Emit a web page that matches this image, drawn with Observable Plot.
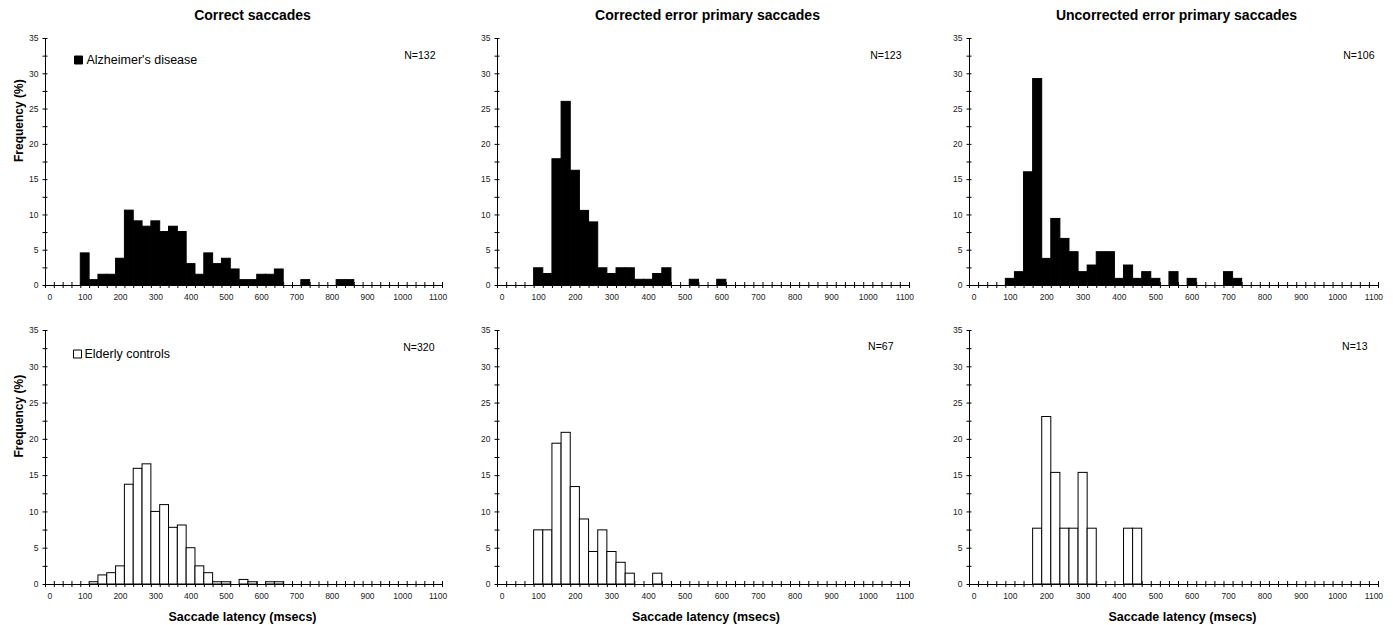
<!DOCTYPE html>
<html>
<head>
<meta charset="utf-8">
<script src="https://cdn.jsdelivr.net/npm/d3@7"></script>
<script src="https://cdn.jsdelivr.net/npm/@observablehq/plot@0.6"></script>
<style>
html, body { margin: 0; padding: 0; background: #fff; }
#chart { position: relative; width: 1393px; height: 625px; overflow: hidden; background: #fff; }
#chart svg { position: absolute; }
</style>
</head>
<body>
<div id="chart"></div>
<script>
// ---- Data ----
const xTickLabels = [0, 100, 200, 300, 400, 500, 600, 700, 800, 900, 1000, 1100];
const yTickLabels = [0, 5, 10, 15, 20, 25, 30, 35];
const columnTitles = ["Correct saccades", "Corrected error primary saccades", "Uncorrected error primary saccades"];
const groupNames = ["Alzheimer's disease", "Elderly controls"];
const sampleSizes = [[132, 123, 106], [320, 67, 13]];
const xTitle = "Saccade latency (msecs)";
const yTitle = "Frequency (%)";

// Alzheimer's disease — correct saccades
const adCorrectBins = [100,125,150,175,200,225,250,275,300,325,350,375,400,425,450,475,500,525,550,575,600,625,650,725,825,850];
const adCorrectPct  = [4.55,0.76,1.52,1.52,3.79,10.61,9.09,8.33,9.09,7.58,8.33,7.58,3.03,1.52,4.55,3.03,3.79,2.27,0.76,0.76,1.52,1.52,2.27,0.76,0.76,0.76];
// Alzheimer's disease — corrected error primary saccades
const adCorrErrBins = [100,125,150,175,200,225,250,275,300,325,350,375,400,425,450,525,600];
const adCorrErrPct  = [2.44,1.63,17.89,26.02,16.26,10.57,8.94,2.44,1.63,2.44,2.44,0.81,0.81,1.63,2.44,0.81,0.81];
// Alzheimer's disease — uncorrected error primary saccades
const adUncErrBins = [100,125,150,175,200,225,250,275,300,325,350,375,400,425,450,475,500,550,600,700,725];
const adUncErrPct  = [0.94,1.89,16.04,29.25,3.77,9.43,6.60,4.72,1.89,2.83,4.72,4.72,0.94,2.83,0.94,1.89,0.94,1.89,0.94,1.89,0.94];
// Elderly controls — correct saccades
const ecCorrectBins = [125,150,175,200,225,250,275,300,325,350,375,400,425,450,475,500,550,575,625,650];
const ecCorrectPct  = [0.31,1.25,1.56,2.50,13.75,15.94,16.56,10.00,10.94,7.81,8.13,5.00,2.50,1.56,0.31,0.31,0.63,0.31,0.31,0.31];
// Elderly controls — corrected error primary saccades
const ecCorrErrBins = [100,125,150,175,200,225,250,275,300,325,350,425];
const ecCorrErrPct  = [7.46,7.46,19.40,20.90,13.43,8.96,4.48,7.46,4.48,2.99,1.49,1.49];
// Elderly controls — uncorrected error primary saccades
const ecUncErrBins = [175,200,225,250,275,300,325,425,450];
const ecUncErrPct  = [7.69,23.08,15.38,7.69,7.69,15.38,7.69,7.69,7.69];

const panelData = [
  [[adCorrectBins, adCorrectPct], [adCorrErrBins, adCorrErrPct], [adUncErrBins, adUncErrPct]],
  [[ecCorrectBins, ecCorrectPct], [ecCorrErrBins, ecCorrErrPct], [ecUncErrBins, ecUncErrPct]]
];

// ---- Layout ----
const binWidth = 25;
const half = binWidth / 2;
const xDomain = [0 - half, 1100 + half];
const binEdges = d3.range(xDomain[0], xDomain[1] + 1, binWidth);
const yMinor = d3.range(0, 35.01, 2.5);

const cols = [
  {x0: 45, x1: 442, titleDx: 8.5, xTitleDx: -1.5},
  {x0: 497, x1: 909, titleDx: 4, xTitleDx: 2.5},
  {x0: 969, x1: 1378, titleDx: 2.5, xTitleDx: 8.5}
];
const rows = [
  {y0: 38, y1: 285, mt: 38, mb: 20},
  {y0: 330, y1: 584, mt: 20, mb: 41}
];
const nOffsets = [[[-7, 17], [-8, 17], [-4, 17]], [[-8, 17.5], [-16, 16], [-11, 16]]];
const ML = 45, MR = 15;
const FONT = "'Liberation Sans', Arial, Helvetica, sans-serif";

const chart = document.getElementById("chart");

for (let r = 0; r < 2; r++) {
  for (let c = 0; c < 3; c++) {
    const col = cols[c], row = rows[r];
    const [bins, pct] = panelData[r][c];
    const data = bins.map((b, i) => ({bin: b, pct: pct[i]}));
    const filled = r === 0;
    const frameW = col.x1 - col.x0;
    const frameH = row.y1 - row.y0;
    const [ndx, ndy] = nOffsets[r][c];

    const marks = [
      Plot.axisX({ticks: binEdges, tickSize: 6, dy: -3, tickFormat: () => "", label: null, stroke: "black"}),
      Plot.axisX({ticks: xTickLabels, tickSize: 0, tickPadding: 8, fontSize: 8.5, fill: "#222", tickFormat: d => String(d), label: null}),
      Plot.axisY({ticks: yMinor, tickSize: 5, dx: 2.5, tickFormat: () => "", label: null, stroke: "black"}),
      Plot.axisY({ticks: yTickLabels, tickSize: 0, tickPadding: 7, fontSize: 8.5, fill: "#222", tickFormat: d => String(d), label: null}),
      Plot.ruleY([0], {stroke: "black", strokeWidth: 1}),
      Plot.ruleX([xDomain[0]], {stroke: "black", strokeWidth: 1}),
      Plot.rectY(data, {
        x1: d => d.bin - half, x2: d => d.bin + half, y: "pct",
        fill: filled ? "black" : "white", stroke: "black", strokeWidth: 1
      }),
      Plot.text([`N=${sampleSizes[r][c]}`], {
        frameAnchor: "top-right", dx: ndx, dy: ndy, textAnchor: "end", lineAnchor: "middle", fontSize: 10.5
      })
    ];
    if (r === 0) {
      marks.push(Plot.text([columnTitles[c]], {
        frameAnchor: "top", dx: col.titleDx, dy: -23, lineAnchor: "middle", fontSize: 14, fontWeight: "bold"
      }));
    } else {
      marks.push(Plot.text([xTitle], {
        frameAnchor: "bottom", dx: col.xTitleDx, dy: 32, lineAnchor: "middle", fontSize: 12.5, fontWeight: "bold"
      }));
    }
    if (c === 0) {
      marks.push(Plot.text([yTitle], {
        frameAnchor: "left", dx: -26, rotate: -90, lineAnchor: "middle", fontSize: 12, fontWeight: "bold"
      }));
      marks.push(Plot.dot([groupNames[r]], {
        frameAnchor: "top-left", dx: r === 0 ? 33 : 32, dy: r === 0 ? 21.5 : 23.5,
        symbol: "square", r: 4.5, fill: filled ? "black" : "white", stroke: "black", strokeWidth: 1
      }));
      marks.push(Plot.text([groupNames[r]], {
        frameAnchor: "top-left", dx: r === 0 ? 41 : 39, dy: r === 0 ? 21 : 23,
        textAnchor: "start", lineAnchor: "middle", fontSize: 12.5
      }));
    }

    const svg = Plot.plot({
      width: ML + frameW + MR,
      height: row.mt + frameH + row.mb,
      marginLeft: ML, marginRight: MR, marginTop: row.mt, marginBottom: row.mb,
      x: {type: "linear", domain: xDomain},
      y: {type: "linear", domain: [0, 35]},
      style: {fontFamily: FONT, background: "transparent", overflow: "visible", color: "black"},
      marks
    });
    svg.style.left = (col.x0 - ML) + "px";
    svg.style.top = (row.y0 - row.mt) + "px";
    svg.style.maxWidth = "none";
    chart.appendChild(svg);
  }
}
</script>
</body>
</html>
